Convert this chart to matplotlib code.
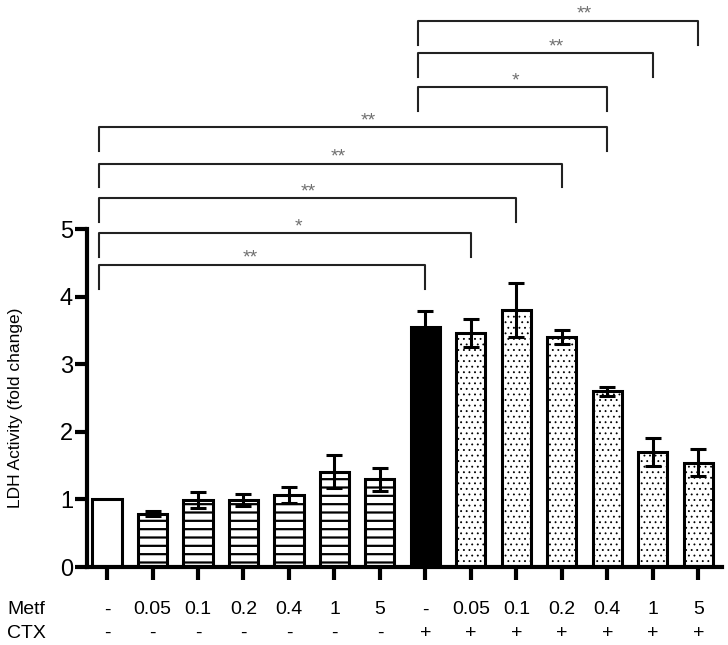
import numpy as np
import matplotlib.pyplot as plt

plt.rcParams['font.family'] = ['Liberation Sans', 'DejaVu Sans']
plt.rcParams['hatch.linewidth'] = 1.6

# data
metf = ['-', '0.05', '0.1', '0.2', '0.4', '1', '5', '-', '0.05', '0.1', '0.2', '0.4', '1', '5']
ctx = ['-'] * 7 + ['+'] * 7
ldh = [1.0, 0.79, 0.99, 0.99, 1.06, 1.41, 1.30, 3.55, 3.46, 3.80, 3.40, 2.60, 1.70, 1.54]
err = [0.0, 0.04, 0.12, 0.09, 0.12, 0.24, 0.17, 0.24, 0.21, 0.40, 0.10, 0.07, 0.21, 0.20]
fills = ['white'] + ['white'] * 6 + ['black'] + ['white'] * 6
hatches = [''] + ['--'] * 6 + [''] + ['...'] * 6

# significance brackets: (left bar, right bar, height, label, label x)
br_left = [0, 0, 0, 0, 0, 7, 7, 7]
br_right = [7, 8, 9, 10, 11, 11, 12, 13]
br_height = [4.47, 4.94, 5.46, 5.97, 6.51, 7.10, 7.60, 8.08]
br_label = ['**', '*', '**', '**', '**', '*', '**', '**']
br_text_x = [3.14, 4.2, 4.42, 5.08, 5.74, 8.99, 9.87, 10.5]

x = np.arange(len(ldh))

fig = plt.figure(figsize=(7.28, 6.45), dpi=100)
ax = fig.add_axes([87/728, 78/645, 635/728, 567/645])

bars = ax.bar(x, ldh, width=0.64, color=fills, edgecolor='black', linewidth=2.2,
              hatch=hatches, zorder=2)
for b, h in zip(bars, hatches):
    if h.startswith('.') and hasattr(b, 'set_hatch_linewidth'):
        b.set_hatch_linewidth(0.6)
ax.errorbar(x[1:], ldh[1:], yerr=err[1:], fmt='none', ecolor='black',
            elinewidth=2.2, capsize=6, capthick=2.2, zorder=3)

for l, r, h, lab, tx in zip(br_left, br_right, br_height, br_label, br_text_x):
    ax.plot([l - 0.17, l - 0.17, r, r], [h - 0.35, h, h, h - 0.35],
            color='#222222', lw=1.5, clip_on=False)
    ax.text(tx, h + 0.03, lab, ha='center', va='baseline', fontsize=14,
            color='#707070')

ax.set_xlim(-0.44, 13.52)
ax.set_ylim(0, 8.39)
ax.set_yticks(range(6))
ax.tick_params(axis='y', labelsize=17, length=9, width=3, pad=1)
ax.set_xticks(x)
ax.set_xticklabels([])
ax.tick_params(axis='x', length=9.5, width=3)
ax.spines['top'].set_visible(False)
ax.spines['right'].set_visible(False)
ax.spines['left'].set_bounds(0, 5)
ax.spines['left'].set_linewidth(3)
ax.spines['bottom'].set_linewidth(3)
ax.set_ylabel('LDH Activity (fold change)', fontsize=12.5)
ax.yaxis.set_label_coords(-0.1, 0.28)

tr = ax.get_xaxis_transform()
for i in x:
    ax.text(i, -43/567, metf[i], ha='center', va='center', fontsize=14, transform=tr)
    ax.text(i, -66/567, ctx[i], ha='center', va='center', fontsize=14, transform=tr)
fig.text(7/728, 1 - 610/645, 'Metf', ha='left', va='center', fontsize=14)
fig.text(7/728, 1 - 633/645, 'CTX', ha='left', va='center', fontsize=14)

fig.savefig('out.png', dpi=100)
